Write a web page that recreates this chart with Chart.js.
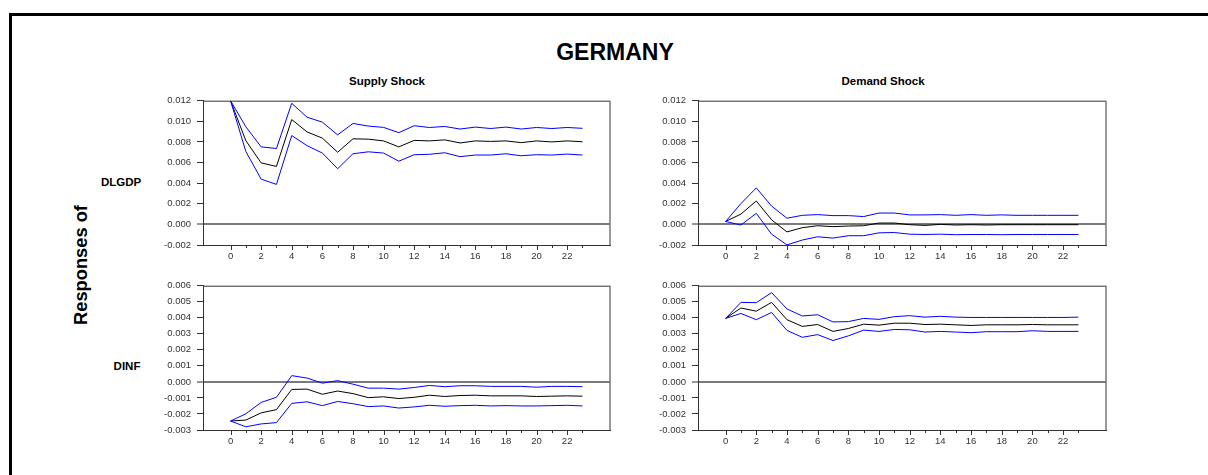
<!DOCTYPE html>
<html>
<head>
<meta charset="utf-8">
<script src="https://cdn.jsdelivr.net/npm/chart.js@4.4.1/dist/chart.umd.min.js"></script>
<style>
  body { margin: 0; width: 1208px; height: 475px; background: #fff; position: relative; overflow: hidden; font-family: "Liberation Sans", Arial, sans-serif; color: #000; }
  .frame { position: absolute; left: 9px; top: 13px; width: 1400px; height: 700px; border-left: 3px solid #000; border-top: 3px solid #000; }
  .lbl { position: absolute; font-weight: bold; white-space: nowrap; transform: translate(-50%, -50%); }
  .panel { position: absolute; }
</style>
</head>
<body>
<div class="frame"></div>
<div class="lbl" style="left:615px;top:52px;font-size:23px;">GERMANY</div>
<div class="lbl" style="left:387px;top:81px;font-size:11.5px;">Supply Shock</div>
<div class="lbl" style="left:883px;top:81px;font-size:11.5px;">Demand Shock</div>
<div class="lbl" style="left:81px;top:265px;font-size:18.3px;transform:translate(-50%,-50%) rotate(-90deg);">Responses of</div>
<div class="lbl" style="left:121px;top:182px;font-size:11.5px;">DLGDP</div>
<div class="lbl" style="left:127px;top:366px;font-size:11.5px;">DINF</div>

<div class="panel" style="left:140px;top:89px;width:474px;height:178px;"><canvas id="c1"></canvas></div>
<div class="panel" style="left:635px;top:89px;width:475px;height:178px;"><canvas id="c2"></canvas></div>
<div class="panel" style="left:140px;top:274px;width:474px;height:178px;"><canvas id="c3"></canvas></div>
<div class="panel" style="left:635px;top:274px;width:475px;height:178px;"><canvas id="c4"></canvas></div>

<script>
const periods = [0, 1, 2, 3, 4, 5, 6, 7, 8, 9, 10, 11, 12, 13, 14, 15, 16, 17, 18, 19, 20, 21, 22, 23];
const yTicksGdp = [-0.002, 0, 0.002, 0.004, 0.006, 0.008, 0.010, 0.012];
const yTicksInf = [-0.003, -0.002, -0.001, 0, 0.001, 0.002, 0.003, 0.004, 0.005, 0.006];

// DLGDP response to supply shock
const supplyGdp   = [0.0120, 0.00812, 0.00597, 0.00562, 0.01017, 0.00897, 0.00837, 0.00700, 0.00830, 0.00827, 0.00810, 0.00752, 0.00815, 0.00810, 0.00820, 0.00790, 0.00810, 0.00805, 0.00810, 0.00793, 0.00810, 0.00800, 0.00810, 0.00802];
const supplyGdpUp = [0.0120, 0.00947, 0.00752, 0.00736, 0.01175, 0.01040, 0.00992, 0.00868, 0.00979, 0.00954, 0.00941, 0.00890, 0.00957, 0.00940, 0.00950, 0.00925, 0.00944, 0.00930, 0.00944, 0.00925, 0.00940, 0.00930, 0.00940, 0.00932];
const supplyGdpLo = [0.0120, 0.00707, 0.00439, 0.00388, 0.00862, 0.00764, 0.00692, 0.00540, 0.00685, 0.00704, 0.00692, 0.00613, 0.00676, 0.00680, 0.00695, 0.00657, 0.00673, 0.00673, 0.00685, 0.00666, 0.00676, 0.00673, 0.00682, 0.00673];

// DLGDP response to demand shock
const demandGdp   = [0.00028, 0.00100, 0.00227, 0.00044, -0.00073, -0.00032, -0.00013, -0.00022, -0.00016, -0.00013, 0.00013, 0.00013, -0.00003, -0.00010, 0.00000, -0.00006, -0.00003, -0.00006, -0.00003, -0.00003, -0.00003, -0.00003, -0.00003, -0.00003];
const demandGdpUp = [0.00028, 0.00202, 0.00354, 0.00177, 0.00060, 0.00088, 0.00095, 0.00085, 0.00085, 0.00076, 0.00110, 0.00110, 0.00092, 0.00092, 0.00095, 0.00088, 0.00095, 0.00088, 0.00092, 0.00088, 0.00088, 0.00088, 0.00088, 0.00088];
const demandGdpLo = [0.00028, -0.00006, 0.00107, -0.00095, -0.00199, -0.00152, -0.00120, -0.00133, -0.00110, -0.00110, -0.00082, -0.00079, -0.00095, -0.00098, -0.00095, -0.00100, -0.00098, -0.00098, -0.00100, -0.00098, -0.00098, -0.00098, -0.00098, -0.00098];

// DINF response to supply shock
const supplyInf   = [-0.00244, -0.00238, -0.00193, -0.00173, -0.00047, -0.00045, -0.00077, -0.00057, -0.00073, -0.00098, -0.00093, -0.00104, -0.00096, -0.00083, -0.00091, -0.00085, -0.00083, -0.00087, -0.00087, -0.00087, -0.00091, -0.00089, -0.00087, -0.00089];
const supplyInfUp = [-0.00244, -0.00199, -0.00128, -0.00096, 0.00039, 0.00024, -0.00008, 0.00008, -0.00014, -0.00039, -0.00039, -0.00045, -0.00035, -0.00022, -0.00030, -0.00024, -0.00024, -0.00028, -0.00028, -0.00028, -0.00033, -0.00028, -0.00028, -0.00030];
const supplyInfLo = [-0.00244, -0.00280, -0.00262, -0.00254, -0.00134, -0.00124, -0.00148, -0.00122, -0.00136, -0.00154, -0.00150, -0.00163, -0.00156, -0.00146, -0.00152, -0.00148, -0.00146, -0.00150, -0.00148, -0.00150, -0.00150, -0.00148, -0.00146, -0.00150];

// DINF response to demand shock
const demandInf   = [0.00396, 0.00461, 0.00441, 0.00496, 0.00388, 0.00346, 0.00358, 0.00315, 0.00333, 0.00360, 0.00354, 0.00366, 0.00366, 0.00358, 0.00360, 0.00356, 0.00352, 0.00356, 0.00356, 0.00356, 0.00358, 0.00356, 0.00356, 0.00356];
const demandInfUp = [0.00396, 0.00496, 0.00494, 0.00557, 0.00455, 0.00411, 0.00419, 0.00374, 0.00376, 0.00396, 0.00390, 0.00407, 0.00413, 0.00404, 0.00409, 0.00404, 0.00402, 0.00402, 0.00402, 0.00402, 0.00402, 0.00402, 0.00402, 0.00404];
const demandInfLo = [0.00396, 0.00427, 0.00388, 0.00433, 0.00321, 0.00278, 0.00295, 0.00258, 0.00287, 0.00323, 0.00315, 0.00327, 0.00325, 0.00311, 0.00315, 0.00311, 0.00307, 0.00313, 0.00313, 0.00313, 0.00319, 0.00315, 0.00315, 0.00315];

(function() {
  const tickFont = { family: '"Liberation Sans", Arial, sans-serif', size: 9.5 };

  // short ticks at odd periods, longer at even ones, plus top/right frame
  const framePlugin = {
    id: 'frame',
    afterDraw(chart) {
      const ctx = chart.ctx;
      const a = chart.chartArea;
      const xs = chart.scales.x;
      ctx.save();
      ctx.strokeStyle = '#333';
      ctx.lineWidth = 1;
      ctx.beginPath();
      periods.forEach(p => {
        const px = Math.round(xs.getPixelForValue(p)) + 0.5;
        ctx.moveTo(px, a.bottom);
        ctx.lineTo(px, a.bottom + (p % 2 === 0 ? 5 : 3));
      });
      ctx.moveTo(a.left, a.top + 0.5);
      ctx.lineTo(a.right, a.top + 0.5);
      ctx.stroke();
      ctx.strokeStyle = '#777';
      ctx.lineWidth = 1.5;
      ctx.beginPath();
      ctx.moveTo(a.right, a.top);
      ctx.lineTo(a.right, a.bottom);
      ctx.stroke();
      ctx.restore();
    }
  };

  function line(data, color) {
    return {
      data: periods.map((p, i) => ({ x: p, y: data[i] })),
      borderColor: color, borderWidth: 1, pointRadius: 0, tension: 0, fill: false
    };
  }

  function renderPanel(canvasId, mid, upper, lower, yTicks) {
    const ctx = document.getElementById(canvasId);
    if (!ctx || typeof Chart === 'undefined') return;
    new Chart(ctx.getContext('2d'), {
      type: 'line',
      data: { datasets: [line(upper, '#0000ff'), line(lower, '#0000ff'), line(mid, '#000000')] },
      options: {
        responsive: true, maintainAspectRatio: false, animation: false,
        layout: { padding: { left: 0, top: 8, right: 4, bottom: 0 } },
        plugins: { legend: { display: false }, tooltip: { enabled: false } },
        scales: {
          x: {
            type: 'linear', min: -1.8, max: 24.8,
            afterBuildTicks: s => { s.ticks = periods.map(v => ({ value: v })); },
            afterFit: s => { s.height = 22; },
            ticks: { autoSkip: false, maxRotation: 0, padding: 6, color: '#333', font: tickFont,
              callback: v => (v % 2 === 0 ? String(v) : '') },
            grid: { drawOnChartArea: false, drawTicks: false },
            border: { color: '#333', width: 1 }
          },
          y: {
            min: yTicks[0], max: yTicks[yTicks.length - 1],
            afterBuildTicks: s => { s.ticks = yTicks.map(v => ({ value: v })); },
            afterFit: s => { s.width = 63; },
            ticks: { padding: 6, color: '#333', font: tickFont, callback: v => v.toFixed(3) },
            grid: {
              color: c => (c.tick && Math.abs(c.tick.value) < 1e-9 ? '#7a7a7a' : 'rgba(0,0,0,0)'),
              lineWidth: c => (c.tick && Math.abs(c.tick.value) < 1e-9 ? 2 : 1),
              tickColor: '#333', tickWidth: 1, tickLength: 6
            },
            border: { color: '#333', width: 1 }
          }
        }
      },
      plugins: [framePlugin]
    });
  }

  renderPanel('c1', supplyGdp, supplyGdpUp, supplyGdpLo, yTicksGdp);
  renderPanel('c2', demandGdp, demandGdpUp, demandGdpLo, yTicksGdp);
  renderPanel('c3', supplyInf, supplyInfUp, supplyInfLo, yTicksInf);
  renderPanel('c4', demandInf, demandInfUp, demandInfLo, yTicksInf);
})();
</script>
</body>
</html>
